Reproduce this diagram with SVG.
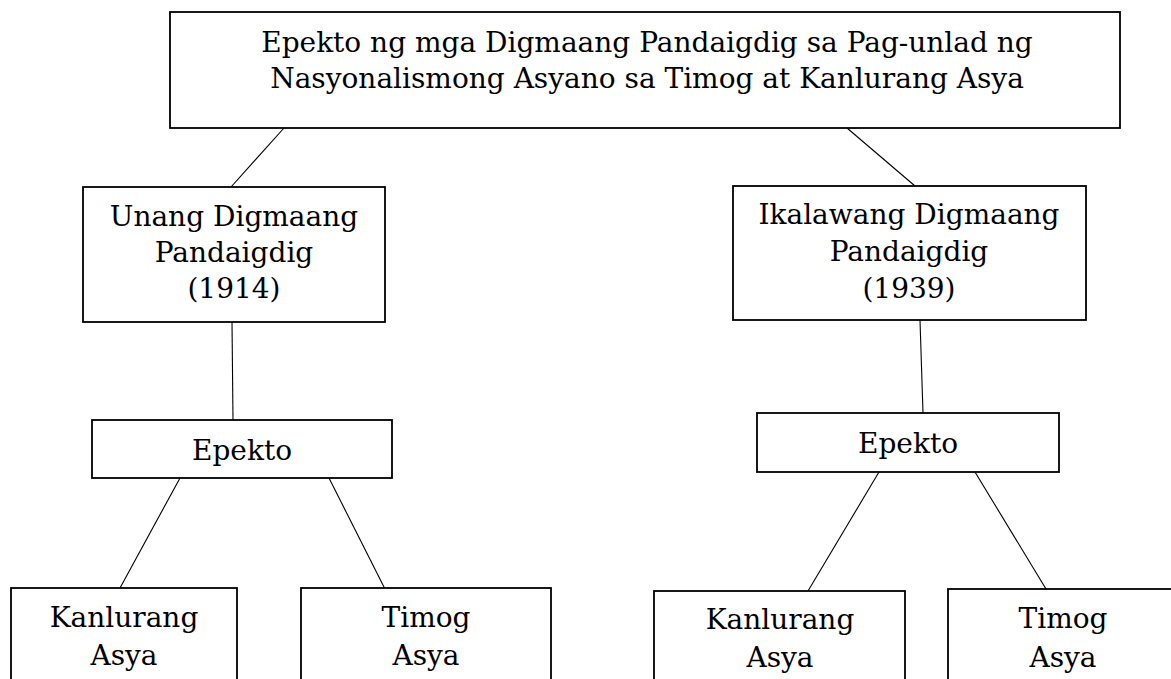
<svg xmlns="http://www.w3.org/2000/svg" width="1171" height="679" viewBox="0 0 1171 679">
<style>
.box{fill:#fff;stroke:#000;stroke-width:1.8}
.t{font-family:"DejaVu Serif","Liberation Serif",serif;font-size:28px;fill:#000;text-anchor:middle}
.c line{stroke:#000;stroke-width:1.1}
</style>
<rect width="1171" height="679" fill="#fff"/>
<g class="c" id="connectors">
<line x1="284" y1="128" x2="231" y2="187"/>
<line x1="847" y1="128" x2="915" y2="186"/>
<line x1="232" y1="322" x2="233" y2="420"/>
<line x1="920" y1="320" x2="923" y2="413"/>
<line x1="180" y1="478" x2="120" y2="588"/>
<line x1="329" y1="478" x2="386" y2="591"/>
<line x1="879" y1="472" x2="808" y2="591"/>
<line x1="975" y1="472" x2="1046" y2="589"/>
</g>
<g id="root">
<rect class="box" x="170" y="12" width="950" height="116"/>
<text class="t" x="647" y="52">Epekto ng mga Digmaang Pandaigdig sa Pag-unlad ng</text>
<text class="t" x="647" y="88">Nasyonalismong Asyano sa Timog at Kanlurang Asya</text>
</g>
<g id="unang">
<rect class="box" x="83" y="187" width="302" height="135"/>
<text class="t" x="234" y="226">Unang Digmaang</text>
<text class="t" x="234" y="262">Pandaigdig</text>
<text class="t" x="234" y="298">(1914)</text>
</g>
<g id="ikalawang">
<rect class="box" x="733" y="186" width="353" height="134"/>
<text class="t" x="909" y="224">Ikalawang Digmaang</text>
<text class="t" x="909" y="261">Pandaigdig</text>
<text class="t" x="909" y="298">(1939)</text>
</g>
<g id="epekto-1">
<rect class="box" x="92" y="420" width="300" height="58"/>
<text class="t" x="242" y="460">Epekto</text>
</g>
<g id="epekto-2">
<rect class="box" x="757" y="413" width="302" height="59"/>
<text class="t" x="908" y="453">Epekto</text>
</g>
<g id="kanlurang-1">
<rect class="box" x="11" y="588" width="226" height="110"/>
<text class="t" x="124" y="627">Kanlurang</text>
<text class="t" x="124" y="665">Asya</text>
</g>
<g id="timog-1">
<rect class="box" x="301" y="588" width="250" height="110"/>
<text class="t" x="426" y="627">Timog</text>
<text class="t" x="426" y="665">Asya</text>
</g>
<g id="kanlurang-2">
<rect class="box" x="654" y="591" width="251" height="110"/>
<text class="t" x="780" y="629">Kanlurang</text>
<text class="t" x="780" y="667">Asya</text>
</g>
<g id="timog-2">
<rect class="box" x="948" y="589" width="230" height="110"/>
<text class="t" x="1063" y="628">Timog</text>
<text class="t" x="1063" y="667">Asya</text>
</g>
</svg>
